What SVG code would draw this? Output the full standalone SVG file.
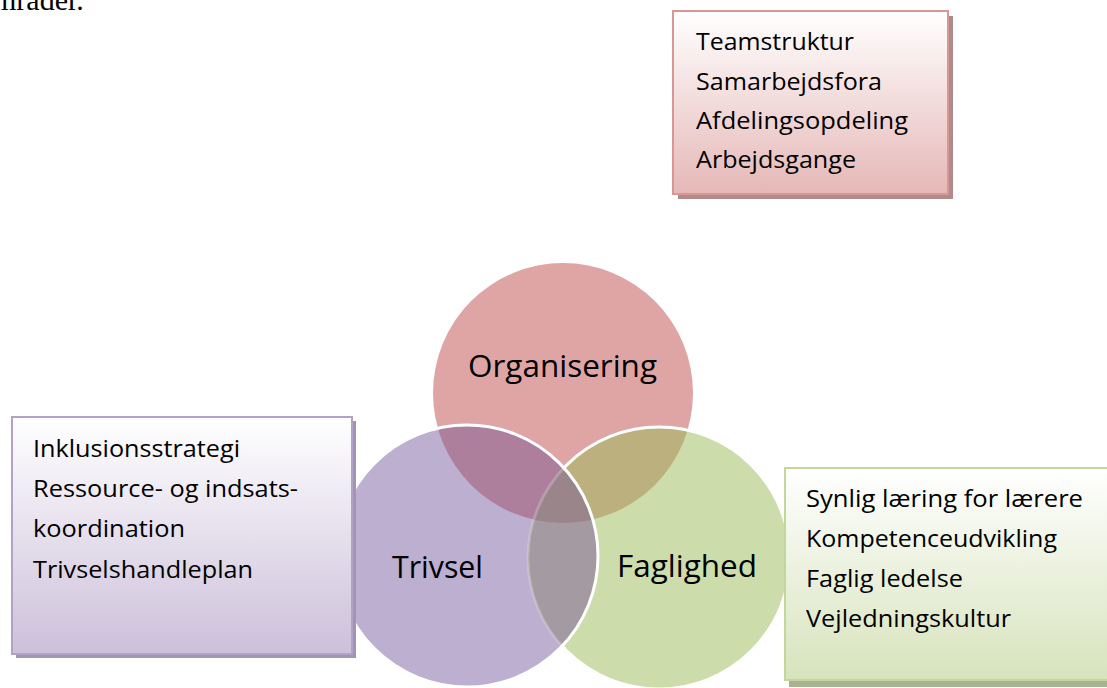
<svg xmlns="http://www.w3.org/2000/svg" width="1107" height="688" viewBox="0 0 1107 688">
<defs>
<style>
.t{font-family:"Open Sans","Liberation Sans",sans-serif;font-size:24px;fill:#000}
.c{font-family:"Open Sans","Liberation Sans",sans-serif;font-size:30.5px;fill:#000}
.body{font-family:"Liberation Serif","Times New Roman",serif;font-size:30px;fill:#000}
</style>
<linearGradient id="gPink" x1="0" y1="0" x2="0" y2="1"><stop offset="0" stop-color="#ffffff"/><stop offset="1" stop-color="#e5b8b7"/></linearGradient>
<linearGradient id="gPurple" x1="0" y1="0" x2="0" y2="1"><stop offset="0" stop-color="#ffffff"/><stop offset="1" stop-color="#ccc0da"/></linearGradient>
<linearGradient id="gGreen" x1="0" y1="0" x2="0" y2="1"><stop offset="0" stop-color="#ffffff"/><stop offset="1" stop-color="#d7e3bc"/></linearGradient>
<clipPath id="cOrg"><circle cx="563" cy="393" r="130"/></clipPath>
<clipPath id="cTriv"><circle cx="467" cy="556" r="131"/></clipPath>
<clipPath id="cFag"><circle cx="659" cy="558" r="131"/></clipPath>
<mask id="mNoTriv" maskUnits="userSpaceOnUse" x="0" y="0" width="1107" height="688">
<rect x="0" y="0" width="1107" height="688" fill="#fff"/>
<circle cx="467" cy="556" r="131" fill="#333"/>
</mask>
</defs>
<rect width="1107" height="688" fill="#fff"/>
<text class="body" x="-7" y="10">mråder.</text>

<g id="venn">
<g id="organisering">
<circle cx="563" cy="393" r="130" fill="#dfa5a5"/>
</g>
<g id="trivsel">
<circle cx="467" cy="556" r="131" fill="#bcafd0"/>
</g>
<g id="faglighed">
<circle cx="659" cy="558" r="131" fill="#cddcab"/>
</g>
<g id="overlaps">
<g clip-path="url(#cTriv)"><circle cx="563" cy="393" r="130" fill="#ad7f9d"/></g>
<g clip-path="url(#cFag)"><circle cx="563" cy="393" r="130" fill="#bdb07f"/></g>
<g clip-path="url(#cFag)"><circle cx="467" cy="556" r="131" fill="#a49aa2"/></g>
<g clip-path="url(#cFag)"><g clip-path="url(#cTriv)"><circle cx="563" cy="393" r="130" fill="#9a858a"/></g></g>
</g>
<circle cx="659" cy="558" r="131" fill="none" stroke="#fff" stroke-width="3" mask="url(#mNoTriv)"/>
<circle cx="467" cy="556" r="131" fill="none" stroke="#fff" stroke-width="3"/>
<text class="c" x="468" y="377" textLength="189" lengthAdjust="spacingAndGlyphs">Organisering</text>
<text class="c" x="392" y="578" textLength="91" lengthAdjust="spacingAndGlyphs">Trivsel</text>
<text class="c" x="617" y="577" textLength="140" lengthAdjust="spacingAndGlyphs">Faglighed</text>
</g>

<g id="connectors"></g>

<g id="box-organisering">
<rect x="678" y="16" width="275" height="183" fill="#b08b8b"/>
<rect x="673" y="11" width="275" height="183" fill="url(#gPink)" stroke="#d99694" stroke-width="2"/>
<text class="t" x="696" y="50" textLength="158" lengthAdjust="spacingAndGlyphs">Teamstruktur</text>
<text class="t" x="696" y="89.5" textLength="186" lengthAdjust="spacingAndGlyphs">Samarbejdsfora</text>
<text class="t" x="696" y="129" textLength="212" lengthAdjust="spacingAndGlyphs">Afdelingsopdeling</text>
<text class="t" x="696" y="168" textLength="160" lengthAdjust="spacingAndGlyphs">Arbejdsgange</text>
</g>

<g id="box-trivsel">
<rect x="16" y="421" width="340" height="237" fill="#a196b2"/>
<rect x="12" y="417" width="340" height="237" fill="url(#gPurple)" stroke="#b2a2c7" stroke-width="2"/>
<text class="t" x="33" y="457" textLength="207" lengthAdjust="spacingAndGlyphs">Inklusionsstrategi</text>
<text class="t" x="33" y="497" textLength="265" lengthAdjust="spacingAndGlyphs">Ressource- og indsats-</text>
<text class="t" x="33" y="537" textLength="152" lengthAdjust="spacingAndGlyphs">koordination</text>
<text class="t" x="33" y="577.5" textLength="220" lengthAdjust="spacingAndGlyphs">Trivselshandleplan</text>
</g>

<g id="box-faglighed">
<rect x="789" y="473" width="330" height="214" fill="#a9b195"/>
<rect x="785" y="468" width="330" height="212" fill="url(#gGreen)" stroke="#c3d69b" stroke-width="2"/>
<text class="t" x="806" y="507" textLength="277" lengthAdjust="spacingAndGlyphs">Synlig læring for lærere</text>
<text class="t" x="806" y="547" textLength="251" lengthAdjust="spacingAndGlyphs">Kompetenceudvikling</text>
<text class="t" x="806" y="587" textLength="157" lengthAdjust="spacingAndGlyphs">Faglig ledelse</text>
<text class="t" x="806" y="627" textLength="205" lengthAdjust="spacingAndGlyphs">Vejledningskultur</text>
</g>
</svg>
